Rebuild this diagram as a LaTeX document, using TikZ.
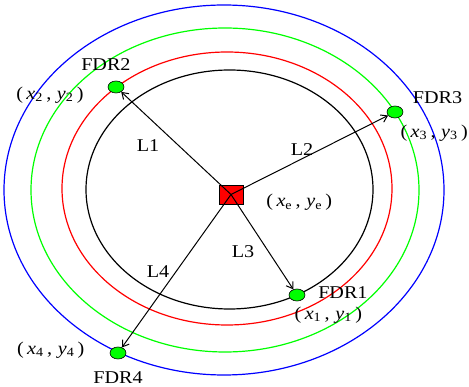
\documentclass[tikz,border=0pt]{standalone}
\usepackage{fontspec}
\setmainfont{Liberation Serif}
\usetikzlibrary{positioning,shapes.geometric,arrows.meta}
\newcommand{\fdrpos}[1]{(\,\textit{x}$_{\mathrm{#1}}$\,,\;\textit{y}$_{\mathrm{#1}}$\,)}
\begin{document}
\begin{tikzpicture}[x=1pt,y=-1pt]
    \tikzstyle{ring} = [line width=1.2pt]
    \tikzstyle{fdr} = [ellipse, draw, fill=green, line width=0.6pt,
        minimum width=16pt, minimum height=12pt, inner sep=0pt]
    \tikzstyle{base} = [rectangle, draw, fill=red, line width=0.8pt,
        minimum width=24pt, minimum height=19pt, inner sep=0pt]
    \tikzstyle{lbl} = [font=\fontsize{18}{20}\selectfont, xscale=1.12, inner sep=0pt]
    \tikzstyle{line} = [draw, line width=1pt, -{Straight Barb[length=6pt,width=8pt]}]

    \useasboundingbox (0,0) rectangle (469,387);
    \draw [ring, blue]  (224,190) ellipse [x radius=220pt, y radius=185pt];
    \draw [ring, green] (225,190) ellipse [x radius=194pt, y radius=162pt];
    \draw [ring, red]   (227,188.5) ellipse [x radius=165pt, y radius=136.5pt];
    \draw [ring, black] (229.5,189.5) ellipse [x radius=143.5pt, y radius=119.5pt];
    %
    \node [base] (xe) at (231,194.5) {};
    \node [lbl, right of=xe, node distance=61pt, yshift=-8pt] (xelbl) {\fdrpos{e}};
    %
    \node [fdr] (fdr1) at (297,295) {};
    \node [lbl, right of=fdr1, node distance=41pt, yshift=2pt] (n1) {FDR1};
    \node [lbl, below of=fdr1, node distance=20pt, xshift=28pt] (p1) {\fdrpos{1}};
    %
    \node [fdr] (fdr2) at (116,87) {};
    \node [lbl, above of=fdr2, node distance=22pt, xshift=-9pt] (n2) {FDR2};
    \node [lbl, left of=fdr2, node distance=59pt, yshift=-8pt] (p2) {\fdrpos{2}};
    %
    \node [fdr] (fdr3) at (395,112) {};
    \node [lbl, right of=fdr3, node distance=38pt, yshift=14pt] (n3) {FDR3};
    \node [lbl, right of=fdr3, node distance=35pt, yshift=-21pt] (p3) {\fdrpos{3}};
    %
    \node [fdr] (fdr4) at (118,353) {};
    \node [lbl, left of=fdr4, node distance=60pt, yshift=3pt] (p4) {\fdrpos{4}};
    \node [lbl, below of=fdr4, node distance=25pt] (n4) {FDR4};
    %
    \path [line] (xe.center) -- (fdr2);
    \path [line] (xe.center) -- (fdr3);
    \path [line] (xe.center) -- (fdr1);
    \path [line] (xe.center) -- (fdr4);
    \node [lbl] (l1) at (148,146) {L1};
    \node [lbl] (l2) at (302,150) {L2};
    \node [lbl] (l3) at (243,252) {L3};
    \node [lbl] (l4) at (158,272) {L4};

\end{tikzpicture}
\end{document}
